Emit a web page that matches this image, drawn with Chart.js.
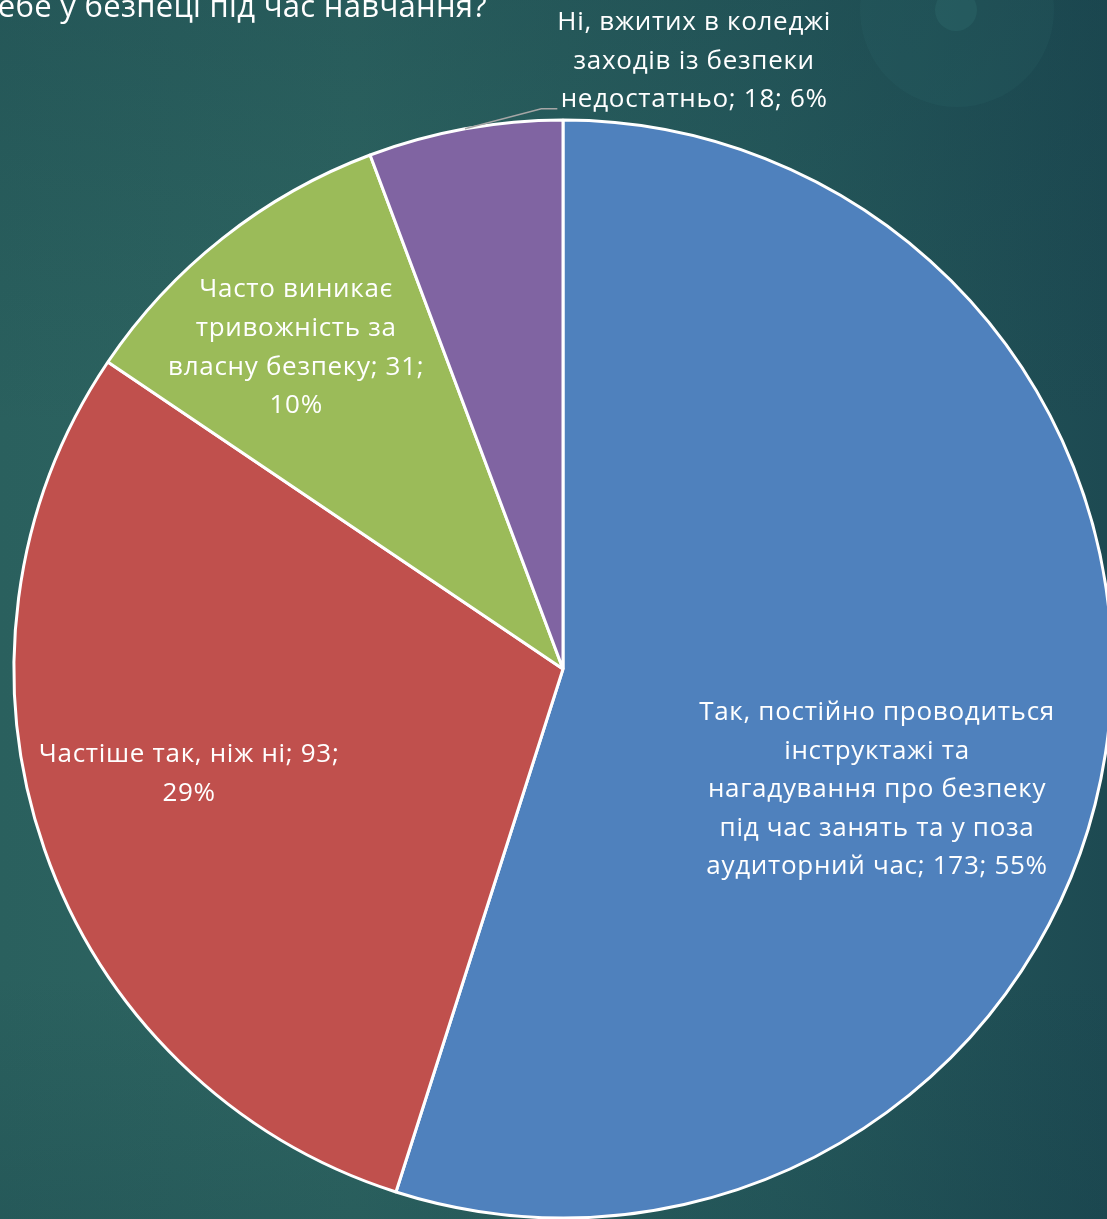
<!DOCTYPE html>
<html lang="uk">
<head>
    <meta charset="UTF-8">
    <title>Безпека під час навчання</title>
    <script src="https://cdn.jsdelivr.net/npm/chart.js"></script>
    <style>
        html, body {
            margin: 0;
            padding: 0;
            overflow: hidden;
            background: #265c5c;
        }

        .chart-box {
            position: relative;
            width: 1107px;
            height: 1219px;
        }
    </style>
</head>
<body>
    <div class="chart-box">
        <canvas id="safetyChart" width="1107" height="1219"></canvas>
    </div>

    <script>
        // data
        const categories = [
            'Так, постійно проводиться інструктажі та нагадування про безпеку під час занять та у поза аудиторний час',
            'Частіше так, ніж ні',
            'Часто виникає тривожність за власну безпеку',
            'Ні, вжитих в коледжі заходів із безпеки недостатньо'
        ];
        const answers = [173, 93, 31, 18];
        const percents = [55, 29, 10, 6];
        const sliceColors = ['#4f81bd', '#c0504d', '#9bbb59', '#8064a2'];
        const titleText = 'ебе у безпеці під час навчання?';

        // label layout: words per line, and block centre in units of the radius
        const lineWords = [[3, 2, 3, 6, 4], [5, 1], [2, 2, 3, 1], [4, 3, 3]];
        const labelOffset = [[0.572, 0.220], [-0.681, 0.191], [-0.486, -0.585], [0.239, -1.107]];
        const leaderFor = [false, false, false, true];

        const FONT = '"Open Sans", "Noto Sans", sans-serif';

        const backgroundPlugin = {
            id: 'slideBackground',
            beforeDraw(chart) {
                const ctx = chart.ctx;
                const w = chart.width, h = chart.height;
                ctx.save();
                let g = ctx.createLinearGradient(0, 0, w, 0);
                g.addColorStop(0, '#2a605e');
                g.addColorStop(0.32, '#2e6662');
                g.addColorStop(0.7, '#265a5c');
                g.addColorStop(1, '#1d4a52');
                ctx.fillStyle = g;
                ctx.fillRect(0, 0, w, h);
                // darker top-left and bottom-right corners
                g = ctx.createLinearGradient(0, 0, 0, h);
                g.addColorStop(0, 'rgba(20,60,70,0.25)');
                g.addColorStop(0.35, 'rgba(20,60,70,0)');
                g.addColorStop(0.8, 'rgba(20,60,70,0)');
                g.addColorStop(1, 'rgba(20,60,70,0.2)');
                ctx.fillStyle = g;
                ctx.fillRect(0, 0, w, h);
                // decorative circles, top right
                ctx.fillStyle = 'rgba(60,130,130,0.1)';
                ctx.beginPath();
                ctx.arc(957, 10, 97, 0, Math.PI * 2);
                ctx.fill();
                ctx.fillStyle = 'rgba(70,150,140,0.15)';
                ctx.beginPath();
                ctx.arc(956, 10, 21, 0, Math.PI * 2);
                ctx.fill();
                // cut-off title
                ctx.fillStyle = '#ffffff';
                ctx.font = '31px ' + FONT;
                ctx.letterSpacing = '0.3px';
                ctx.textAlign = 'right';
                ctx.textBaseline = 'alphabetic';
                ctx.fillText(titleText, 487, 17);
                ctx.restore();
            }
        };

        const labelPlugin = {
            id: 'sliceLabels',
            afterDatasetsDraw(chart) {
                const ctx = chart.ctx;
                const arcs = chart.getDatasetMeta(0).data;
                const lh = 38.6;
                ctx.save();
                ctx.font = '26px ' + FONT;
                ctx.letterSpacing = '0.7px';
                ctx.fillStyle = '#ffffff';
                ctx.textAlign = 'center';
                ctx.textBaseline = 'middle';
                arcs.forEach((arc, i) => {
                    const words = (categories[i] + '; ' + answers[i] + '; ' + percents[i] + '%').split(' ');
                    const lines = [];
                    let k = 0;
                    lineWords[i].forEach(n => {
                        lines.push(words.slice(k, k + n).join(' '));
                        k += n;
                    });
                    const R = arc.outerRadius;
                    const cx = arc.x + labelOffset[i][0] * R;
                    const cy = arc.y + labelOffset[i][1] * R;
                    const top = cy - (lines.length - 1) * lh / 2;
                    lines.forEach((t, j) => ctx.fillText(t, cx, top + j * lh));

                    if (leaderFor[i]) {
                        const widest = Math.max(...lines.map(t => ctx.measureText(t).width));
                        const left = cx - widest / 2;
                        const ly = top + (lines.length - 1) * lh + 9;
                        const mid = (arc.startAngle + arc.endAngle) / 2;
                        ctx.strokeStyle = '#a6a6a6';
                        ctx.lineWidth = 1.5;
                        ctx.beginPath();
                        ctx.moveTo(arc.x + Math.cos(mid) * R, arc.y + Math.sin(mid) * R);
                        ctx.lineTo(left - 16, ly);
                        ctx.lineTo(left, ly);
                        ctx.stroke();
                    }
                });
                ctx.restore();
            }
        };

        new Chart(document.getElementById('safetyChart'), {
            type: 'pie',
            data: {
                labels: categories,
                datasets: [{
                    data: answers,
                    backgroundColor: sliceColors,
                    borderColor: '#ffffff',
                    borderWidth: 3,
                    clip: false
                }]
            },
            options: {
                responsive: false,
                animation: false,
                events: [],
                radius: 549,
                layout: {
                    padding: { left: 63, right: 44, top: 169, bottom: 50 }
                },
                plugins: {
                    legend: { display: false },
                    tooltip: { enabled: false }
                }
            },
            plugins: [backgroundPlugin, labelPlugin]
        });
    </script>
</body>
</html>
